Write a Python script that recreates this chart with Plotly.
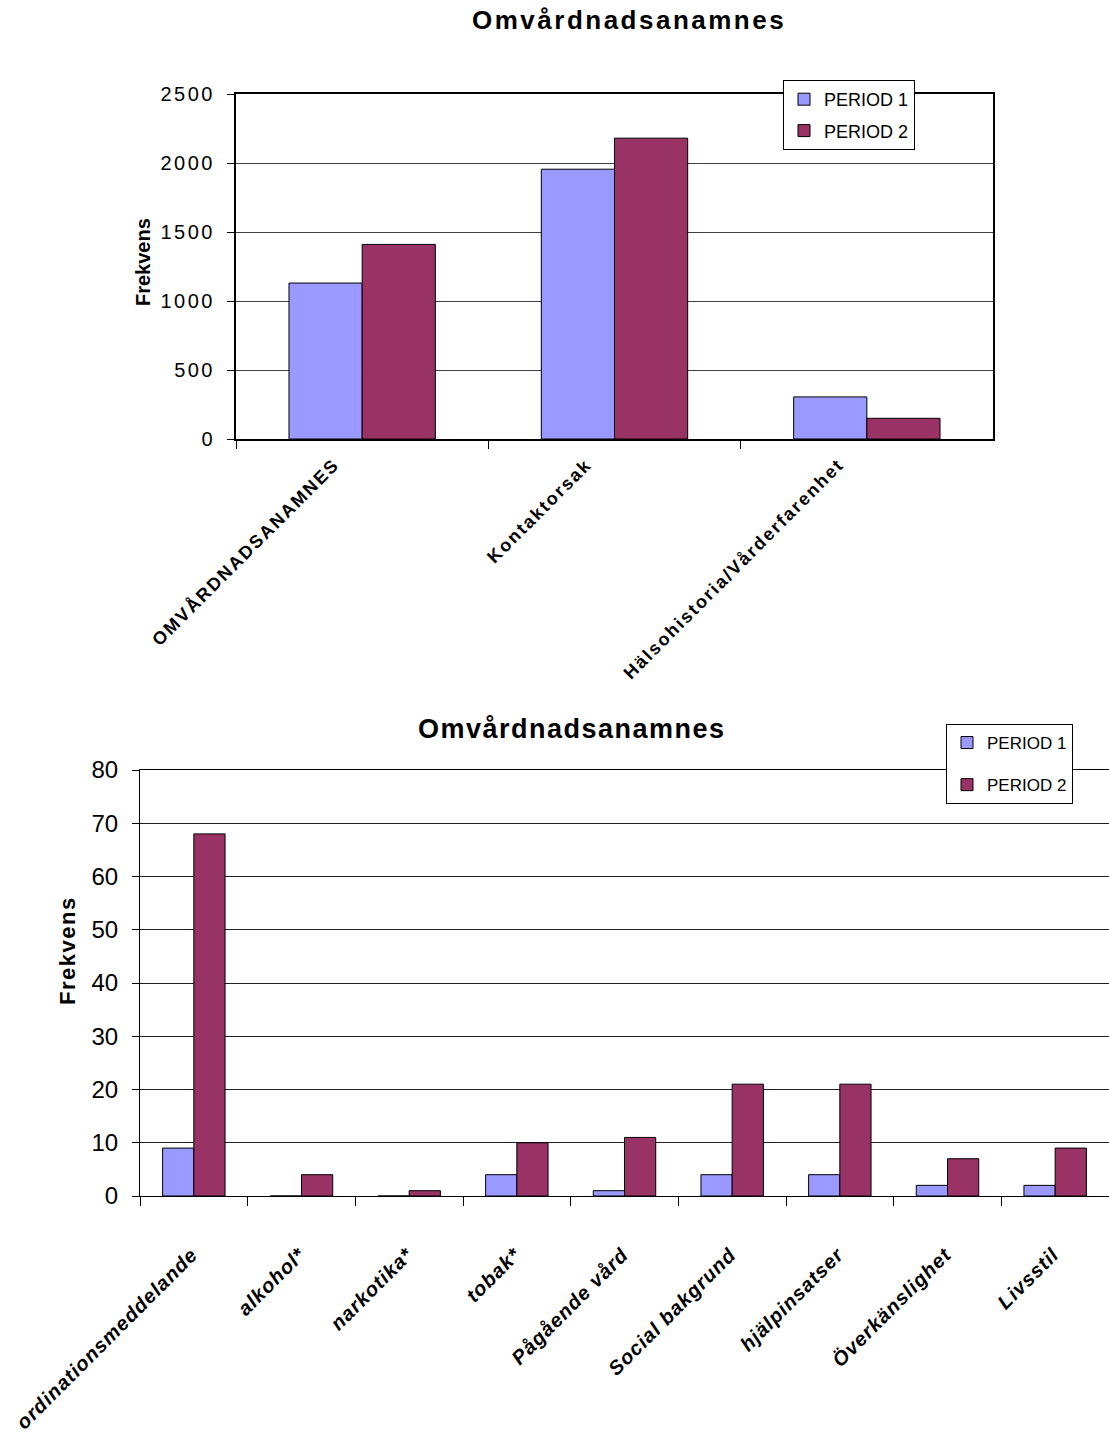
import plotly.graph_objects as go

W, H = 1109, 1443

# Upper chart: main record groups
top_categories = ["OMVÅRDNADSANAMNES", "Kontaktorsak", "Hälsohistoria/Vårderfarenhet"]
top_period1 = [1130, 1955, 305]
top_period2 = [1410, 2180, 150]
top_ticks = [0, 500, 1000, 1500, 2000, 2500]

# Lower chart: items within the nursing history
bottom_categories = [
    "ordinationsmeddelande", "alkohol*", "narkotika*", "tobak*", "Pågående vård",
    "Social bakgrund", "hjälpinsatser", "Överkänslighet", "Livsstil",
]
bottom_period1 = [9, 0, 0, 4, 1, 4, 4, 2, 2]
bottom_period2 = [68, 4, 1, 10, 11, 21, 21, 7, 9]
bottom_ticks = [0, 10, 20, 30, 40, 50, 60, 70, 80]

series_names = ["PERIOD 1", "PERIOD 2"]
colors = ["#9999FF", "#993366"]
chart_title = "Omvårdnadsanamnes"
y_title = "Frekvens"

FONT = "Liberation Sans, Arial, sans-serif"


def spaced(text, px):
    return f'<span style="letter-spacing:{px}px">{text}</span>'


def px_x(v):
    return v / W


def px_y(v):
    return 1 - v / H


fig = go.Figure()

for name, vals, col, grp in zip(series_names, [top_period1, top_period2], colors, ["a", "b"]):
    fig.add_trace(go.Bar(
        x=top_categories, y=vals, name=name, marker=dict(color=col, line=dict(color="black", width=1)),
        xaxis="x", yaxis="y", legend="legend", legendgroup="top" + grp,
    ))

for name, vals, col, grp in zip(series_names, [bottom_period1, bottom_period2], colors, ["a", "b"]):
    fig.add_trace(go.Bar(
        x=bottom_categories, y=vals, name=name, marker=dict(color=col, line=dict(color="black", width=1)),
        xaxis="x2", yaxis="y2", legend="legend2", legendgroup="bot" + grp,
    ))

fig.update_layout(
    template="none",
    width=W, height=H, autosize=False,
    margin=dict(l=0, r=0, t=0, b=0, pad=0),
    paper_bgcolor="white", plot_bgcolor="white",
    font=dict(family=FONT, color="black"),
    barmode="group",
    bargap=0.42,
    bargroupgap=0,
    xaxis=dict(
        domain=[px_x(236), px_x(993)], anchor="y", type="category", automargin=False,
        showline=True, mirror=True, linecolor="black", linewidth=2,
        ticks="outside", tickson="boundaries", ticklen=8, tickcolor="black",
        tickangle=-45, ticklabelstandoff=6, ticklabelshift=-28,
        tickfont=dict(family=FONT, size=18, weight="bold"),
        ticktext=[spaced(c, 2) for c in top_categories], tickvals=top_categories,
        showgrid=False, fixedrange=True,
    ),
    yaxis=dict(
        domain=[px_y(439), px_y(94)], anchor="x", range=[0, 2500], automargin=False,
        tickvals=top_ticks, ticktext=[spaced(v, 2.5) for v in top_ticks],
        tickfont=dict(family=FONT, size=20),
        ticks="outside", ticklen=7, tickcolor="black", ticklabelstandoff=8,
        showgrid=True, gridcolor="#404040", gridwidth=1,
        showline=True, mirror=True, linecolor="black", linewidth=2,
        zeroline=False, fixedrange=True,
    ),
    xaxis2=dict(
        domain=[px_x(140), 1.0], anchor="y2", type="category", automargin=False,
        showline=True, mirror=True, linecolor="black", linewidth=1,
        ticks="outside", tickson="boundaries", ticklen=9, tickcolor="black",
        tickangle=-45, ticklabelstandoff=38, ticklabelshift=-2,
        tickfont=dict(family=FONT, size=20, weight="bold", style="italic"),
        ticktext=[spaced(c, 1) for c in bottom_categories], tickvals=bottom_categories,
        showgrid=False, fixedrange=True,
    ),
    yaxis2=dict(
        domain=[px_y(1196), px_y(770)], anchor="x2", range=[0, 80], automargin=False,
        tickvals=bottom_ticks, ticktext=[str(v) for v in bottom_ticks],
        tickfont=dict(family=FONT, size=24),
        ticks="outside", ticklen=7, tickcolor="black", ticklabelstandoff=9,
        showgrid=True, gridcolor="#202020", gridwidth=1,
        showline=True, mirror=True, linecolor="black", linewidth=1,
        zeroline=False, fixedrange=True,
    ),
    legend=dict(
        x=px_x(783), y=px_y(80), xanchor="left", yanchor="top",
        bgcolor="white", bordercolor="black", borderwidth=1,
        font=dict(family=FONT, size=18), tracegroupgap=5, itemwidth=30,
    ),
    legend2=dict(
        x=px_x(946), y=px_y(724), xanchor="left", yanchor="top",
        bgcolor="white", bordercolor="black", borderwidth=1,
        font=dict(family=FONT, size=17), tracegroupgap=17, itemwidth=30,
    ),
    showlegend=True,
)

annotations = [
    dict(text="<b>" + spaced(chart_title, 2.5) + "</b>", x=px_x(629), y=px_y(20),
         font=dict(family=FONT, size=26)),
    dict(text="<b>" + spaced(chart_title, 1.5) + "</b>", x=px_x(572), y=px_y(729),
         font=dict(family=FONT, size=27)),
    dict(text="<b>" + y_title + "</b>", x=px_x(143), y=px_y(262), textangle=-90,
         font=dict(family=FONT, size=20)),
    dict(text="<b>" + spaced(y_title, 1.5) + "</b>", x=px_x(67), y=px_y(951), textangle=-90,
         font=dict(family=FONT, size=22)),
]
for a in annotations:
    a.update(xref="paper", yref="paper", showarrow=False, xanchor="center", yanchor="middle")
fig.update_layout(annotations=annotations)

fig.write_html("out.html")
